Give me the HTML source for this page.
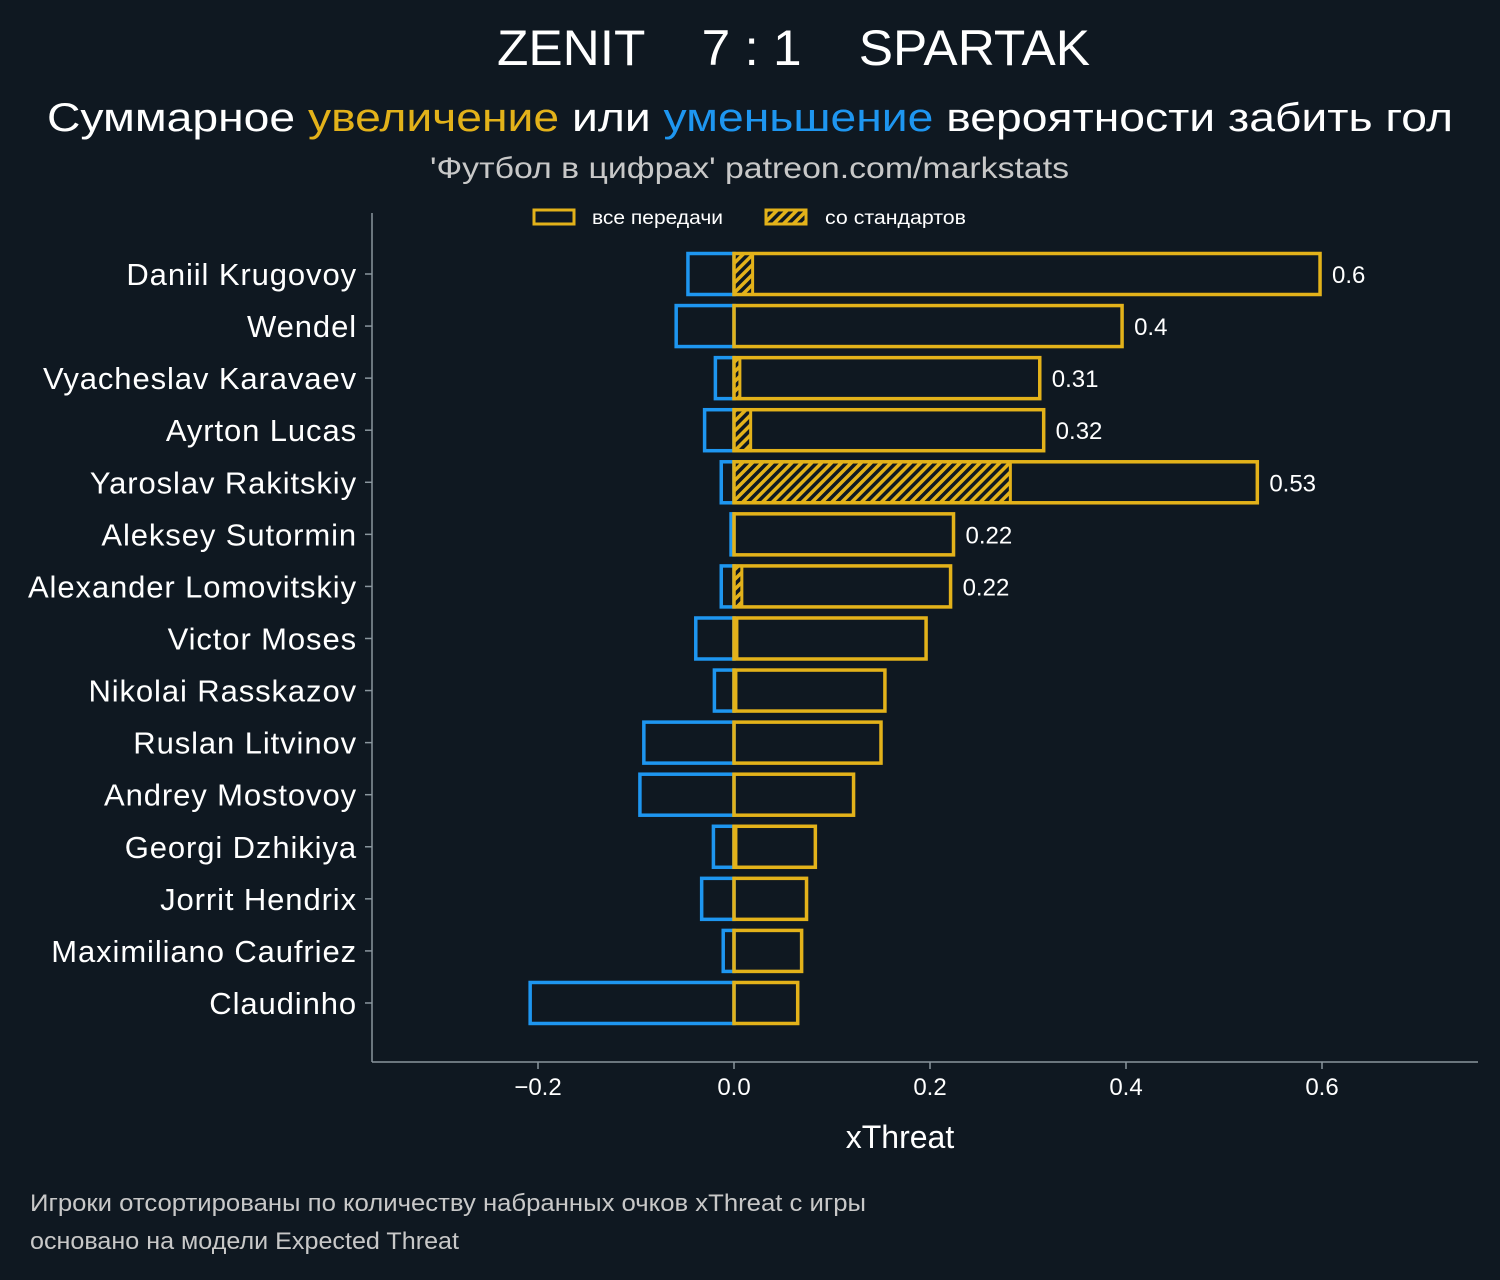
<!DOCTYPE html>
<html><head><meta charset="utf-8"><style>
body{margin:0;background:#0f1821;width:1500px;height:1275px;overflow:hidden;}
svg text{font-family:"Liberation Sans","DejaVu Sans",sans-serif;}
</style></head><body>
<svg id="chart" width="1500" height="1275" xmlns="http://www.w3.org/2000/svg">
<defs>
<pattern id="hatch" patternUnits="userSpaceOnUse" width="7" height="7" patternTransform="rotate(-45)">
<rect width="7" height="7" fill="#e3b21a"/>
<rect x="0" y="0" width="7" height="3.5" fill="#0f1821"/>
</pattern>
</defs>
<rect width="1500" height="1275" fill="#0f1821"/>
<text x="497" y="65" textLength="593" lengthAdjust="spacingAndGlyphs" font-size="50" fill="#fff" xml:space="preserve">ZENIT    7 : 1    SPARTAK</text>
<text x="47" y="131" textLength="1406" lengthAdjust="spacingAndGlyphs" font-size="40" fill="#fff">Суммарное <tspan fill="#e3b21a">увеличение</tspan> или <tspan fill="#1e96f0">уменьшение</tspan> вероятности забить гол</text>
<text x="430" y="178" textLength="639" lengthAdjust="spacingAndGlyphs" font-size="30" fill="#c8c8c8">'Футбол в цифрах' patreon.com/markstats</text>
<g>
<rect x="534" y="210" width="40" height="14" fill="none" stroke="#e3b21a" stroke-width="3"/>
<text x="592" y="224" textLength="131" lengthAdjust="spacingAndGlyphs" font-size="19" fill="#fff">все передачи</text>
<rect x="766" y="210" width="40" height="14" fill="url(#hatch)" stroke="#e3b21a" stroke-width="3"/>
<text x="825" y="224" textLength="141" lengthAdjust="spacingAndGlyphs" font-size="19" fill="#fff">со стандартов</text>
</g>
<line x1="372" y1="213" x2="372" y2="1062" stroke="#8a969e" stroke-width="1.5"/>
<line x1="372" y1="1062" x2="1478" y2="1062" stroke="#8a969e" stroke-width="1.5"/>
<g id="plot"></g>
<text x="900" y="1148" text-anchor="middle" font-size="32" fill="#fff">xThreat</text>
<text x="30" y="1211" textLength="836" lengthAdjust="spacingAndGlyphs" font-size="24" fill="#c8c8c8">Игроки отсортированы по количеству набранных очков xThreat с игры</text>
<text x="30" y="1249" textLength="429" lengthAdjust="spacingAndGlyphs" font-size="24" fill="#c8c8c8">основано на модели Expected Threat</text>
</svg>
<script>
const players=["Daniil Krugovoy","Wendel","Vyacheslav Karavaev","Ayrton Lucas","Yaroslav Rakitskiy","Aleksey Sutormin","Alexander Lomovitskiy","Victor Moses","Nikolai Rasskazov","Ruslan Litvinov","Andrey Mostovoy","Georgi Dzhikiya","Jorrit Hendrix","Maximiliano Caufriez","Claudinho"];
const positive=[0.598,0.396,0.312,0.316,0.534,0.224,0.221,0.196,0.154,0.150,0.122,0.083,0.074,0.069,0.065];
const negative=[-0.047,-0.059,-0.019,-0.030,-0.013,-0.003,-0.013,-0.039,-0.020,-0.092,-0.096,-0.021,-0.033,-0.011,-0.208];
const setPiece=[0.019,0,0.006,0.017,0.282,0,0.008,0.003,0.002,0,0,0.002,0,0,0];
const valueLabels=["0.6","0.4","0.31","0.32","0.53","0.22","0.22","","","","","","","",""];
const xTicks=[-0.2,0.0,0.2,0.4,0.6];
const xTickLabels=["−0.2","0.0","0.2","0.4","0.6"];
const NS="http://www.w3.org/2000/svg";
const g=document.getElementById('plot');
const x=v=>734+v*980;
const y=i=>274+i*52.07;
const H=41;
function el(t,a){const e=document.createElementNS(NS,t);for(const k in a)e.setAttribute(k,a[k]);g.appendChild(e);return e;}
players.forEach((p,i)=>{
  const cy=y(i);
  const n=el('rect',{x:x(negative[i]),y:cy-H/2,width:x(0)-x(negative[i]),height:H,fill:'none',stroke:'#1e96f0','stroke-width':3.5});
  
  
  if(setPiece[i]>0){
    const h=el('rect',{x:x(0),y:cy-H/2,width:x(setPiece[i])-x(0),height:H,fill:'url(#hatch)',stroke:'#e3b21a','stroke-width':3});
    
    
  }
  const b=el('rect',{x:x(0),y:cy-H/2,width:x(positive[i])-x(0),height:H,fill:'none',stroke:'#e3b21a','stroke-width':3.5});
  
  
  const tk=el('line',{x1:365,x2:372,y1:cy,y2:cy,stroke:'#8a969e','stroke-width':1.5});
  
  
  const lb=el('text',{x:357,y:cy+11,'text-anchor':'end','font-size':31,'letter-spacing':0.9,fill:'#fff'});
  lb.textContent=p;
  
  
  if(valueLabels[i]){
    const vl=el('text',{x:x(positive[i])+12,y:cy+9,'font-size':24,fill:'#fff'});
    vl.textContent=valueLabels[i];
    
    
  }
});
xTicks.forEach((v,i)=>{
  const t=el('line',{x1:x(v),x2:x(v),y1:1062,y2:1069,stroke:'#8a969e','stroke-width':1.5});
  
  
  const l=el('text',{x:x(v),y:1095,'text-anchor':'middle','font-size':24,fill:'#fff'});
  l.textContent=xTickLabels[i];
  
  
});
</script>
</body></html>
